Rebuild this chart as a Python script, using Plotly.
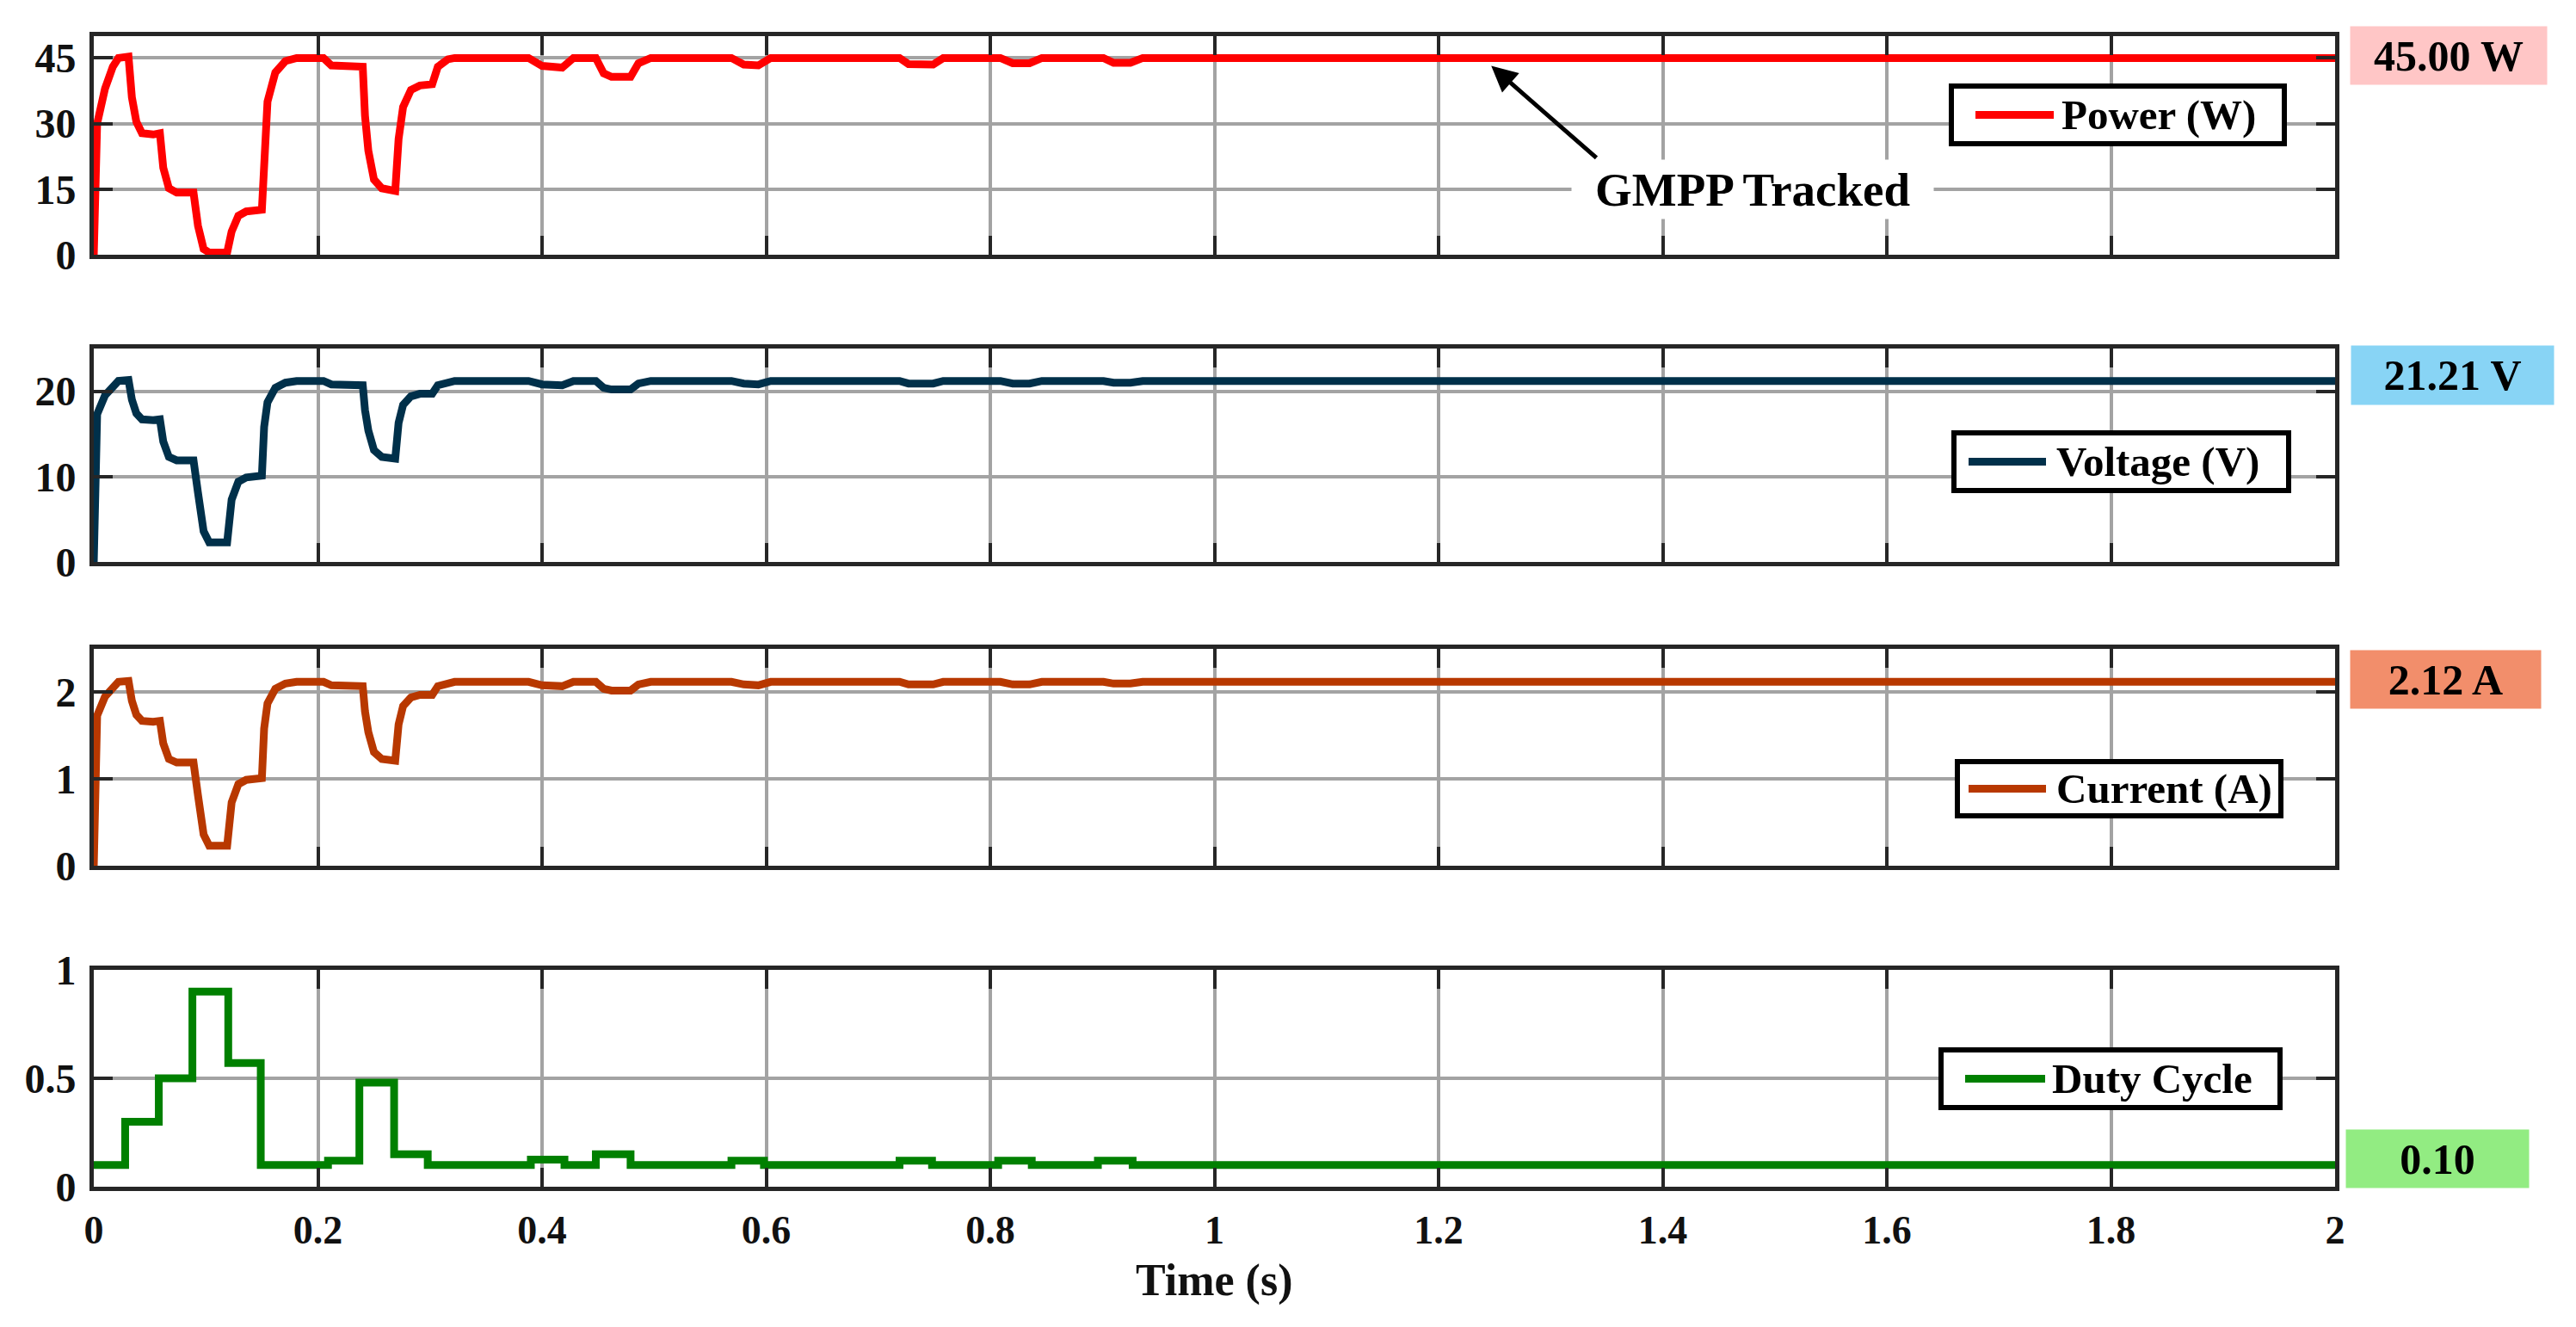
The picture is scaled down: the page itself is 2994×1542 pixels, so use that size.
import plotly.graph_objects as go

# ---------------- data ----------------
time_s = [0, 0.003, 0.01, 0.017, 0.022, 0.031, 0.034, 0.038, 0.043, 0.053, 0.059, 0.062, 0.067, 0.074,
          0.089, 0.093, 0.098, 0.103, 0.119, 0.123, 0.129, 0.136, 0.150, 0.152, 0.155, 0.162, 0.171,
          0.181, 0.205, 0.212, 0.240, 0.242, 0.245, 0.250, 0.257, 0.269, 0.272, 0.276, 0.283, 0.291,
          0.302, 0.307, 0.316, 0.322, 0.388, 0.400, 0.418, 0.428, 0.448, 0.455, 0.462, 0.479, 0.486,
          0.497, 0.569, 0.580, 0.593, 0.604, 0.719, 0.727, 0.749, 0.758, 0.809, 0.820, 0.835, 0.846,
          0.901, 0.910, 0.925, 0.936, 2.0]

power_w = [0, 30, 38, 43, 45, 45.3, 36, 30.4, 27.8, 27.5, 27.8, 19.9, 15.2, 14.2,
           14.2, 6.6, 1.3, 0.5, 0.5, 5.3, 8.9, 9.9, 10.3, 25, 35, 41.7, 44.3,
           45, 45, 43.3, 43, 31.8, 23.8, 17.2, 15.2, 14.6, 26.5, 33.8, 37.7, 38.7,
           39, 43, 44.7, 45, 45, 43.2, 42.8, 45, 45, 41.5, 40.7, 40.7, 43.8,
           45, 45, 43.5, 43.3, 45, 45, 43.6, 43.5, 45, 45, 43.8, 43.8, 45,
           45, 43.9, 43.9, 45, 45]

voltage_v = [0, 17.3, 19.5, 20.7, 21.2, 21.3, 19.0, 17.4, 16.7, 16.6, 16.7, 14.1, 12.3, 11.9,
             11.9, 8.1, 3.6, 2.3, 2.3, 7.3, 9.4, 9.9, 10.1, 15.8, 18.7, 20.4, 21.0,
             21.2, 21.2, 20.8, 20.7, 17.8, 15.4, 13.1, 12.3, 12.1, 16.3, 18.4, 19.4, 19.7,
             19.7, 20.7, 21.1, 21.2, 21.2, 20.8, 20.7, 21.2, 21.2, 20.4, 20.2, 20.2, 20.9,
             21.2, 21.2, 20.9, 20.8, 21.2, 21.2, 20.9, 20.9, 21.2, 21.2, 20.9, 20.9, 21.2,
             21.2, 21.0, 21.0, 21.2, 21.2]

current_a = [0, 1.73, 1.95, 2.07, 2.12, 2.13, 1.90, 1.74, 1.67, 1.66, 1.67, 1.41, 1.23, 1.19,
             1.19, 0.81, 0.36, 0.23, 0.23, 0.73, 0.94, 0.99, 1.01, 1.58, 1.87, 2.04, 2.10,
             2.12, 2.12, 2.08, 2.07, 1.78, 1.54, 1.31, 1.23, 1.21, 1.63, 1.84, 1.94, 1.97,
             1.97, 2.07, 2.11, 2.12, 2.12, 2.08, 2.07, 2.12, 2.12, 2.04, 2.02, 2.02, 2.09,
             2.12, 2.12, 2.09, 2.08, 2.12, 2.12, 2.09, 2.09, 2.12, 2.12, 2.09, 2.09, 2.12,
             2.12, 2.10, 2.10, 2.12, 2.12]

duty_time_s = [0, 0.028, 0.058, 0.088, 0.120, 0.149, 0.209, 0.237, 0.268, 0.298, 0.390, 0.420,
               0.448, 0.479, 0.569, 0.598, 0.719, 0.748, 0.807, 0.837, 0.896, 0.927, 2.0]
duty_cycle = [0.1, 0.3, 0.5, 0.9, 0.57, 0.1, 0.12, 0.48, 0.15, 0.1, 0.125, 0.1,
              0.15, 0.1, 0.12, 0.1, 0.12, 0.1, 0.12, 0.1, 0.12, 0.1, 0.1]

series_names = ["Power (W)", "Voltage (V)", "Current (A)", "Duty Cycle"]
final_labels = ["45.00 W", "21.21 V", "2.12 A", "0.10"]
x_title = "Time (s)"

x_ticks = [0, 0.2, 0.4, 0.6, 0.8, 1, 1.2, 1.4, 1.6, 1.8, 2]
x_tick_text = ["0", "0.2", "0.4", "0.6", "0.8", "1", "1.2", "1.4", "1.6", "1.8", "2"]
y_ranges = [[0, 50], [0, 25], [0, 2.5], [0, 1]]
y_ticks = [[0, 15, 30, 45], [0, 10, 20], [0, 1, 2], [0, 0.5, 1]]
y_tick_text = [["0", "15", "30", "45"], ["0", "10", "20"], ["0", "1", "2"], ["0", "0.5", "1"]]

gmpp_point = (1.247, 43.2)
gmpp_tail = (1.342, 21.9)
gmpp_text_pos = (1.48, 15)

# ---------------- styling ----------------
W, H = 2994, 1542
FONT = "Liberation Serif"
FRAME = "#262626"
GRID = "#a3a3a3"
line_colors = ["#ff0000", "#00304a", "#b83800", "#008000"]
box_colors = ["#ffc6c6", "#88d4f5", "#f28e6b", "#92ec82"]

def px(x):
    return x / W

def py(y):
    return 1 - y / H

X_DOMAIN = [px(109), px(2714)]
Y_PIX = [(42, 296), (405, 653), (754, 1006), (1127, 1379)]

fig = go.Figure()

xs = [time_s, time_s, time_s, duty_time_s]
ys = [power_w, voltage_v, current_a, duty_cycle]
for i in range(4):
    suffix = "" if i == 0 else str(i + 1)
    fig.add_trace(go.Scatter(
        x=xs[i], y=ys[i], mode="lines", name=series_names[i],
        line=dict(color=line_colors[i], width=9, shape="hv" if i == 3 else "linear"),
        xaxis="x" + suffix, yaxis="y" + suffix, showlegend=False,
    ))

layout = dict(
    width=W, height=H,
    margin=dict(l=0, r=0, t=0, b=0, autoexpand=False),
    paper_bgcolor="white", plot_bgcolor="white",
    font=dict(family=FONT, size=46, color="#111111", weight="bold"),
    showlegend=False,
)

for i in range(4):
    suffix = "" if i == 0 else str(i + 1)
    top, bot = Y_PIX[i]
    xa = dict(
        domain=X_DOMAIN, range=[0, 2], anchor="y" + suffix, automargin=False,
        tickvals=x_ticks, ticktext=x_tick_text, showticklabels=(i == 3),
        ticks="inside", ticklen=22, tickwidth=4, tickcolor=FRAME,
        showline=True, linecolor=FRAME, linewidth=5, mirror="ticks",
        showgrid=True, gridcolor=GRID, gridwidth=4, zeroline=False,
        tickfont=dict(family=FONT, size=46, color="#111111", weight="bold"),
        ticklabelstandoff=6,
    )
    if i > 0:
        xa["matches"] = "x"
    ya = dict(
        domain=[py(bot), py(top)], range=y_ranges[i], anchor="x" + suffix, automargin=False,
        tickvals=y_ticks[i], ticktext=y_tick_text[i],
        ticks="inside", ticklen=22, tickwidth=4, tickcolor=FRAME,
        showline=True, linecolor=FRAME, linewidth=5, mirror="ticks",
        showgrid=True, gridcolor=GRID, gridwidth=4, zeroline=False,
        tickfont=dict(family=FONT, size=48, color="#111111", weight="bold"),
        ticklabelstandoff=6,
    )
    layout["xaxis" + suffix] = xa
    layout["yaxis" + suffix] = ya

shapes = []
annotations = []

# x-axis title
annotations.append(dict(text=x_title, xref="paper", yref="paper",
                        x=px(1411), y=py(1488), xanchor="center", yanchor="middle",
                        showarrow=False,
                        font=dict(family=FONT, size=52, color="#111111", weight="bold")))

# legends (drawn manually: box, sample line, label)
legend_boxes = [(2268, 2655, 100, 167), (2271, 2660, 503, 570), (2275, 2651, 885, 948), (2256, 2650, 1220, 1287)]
legend_lines = [(2296, 2387), (2288, 2378), (2288, 2378), (2284, 2377)]
legend_text_x = [2394, 2388, 2388, 2383]
for i in range(4):
    x0, x1, y0, y1 = legend_boxes[i]
    shapes.append(dict(type="rect", xref="paper", yref="paper",
                       x0=px(x0), x1=px(x1), y0=py(y1), y1=py(y0),
                       line=dict(color="#000000", width=6), fillcolor="white", layer="above"))
    yc = (y0 + y1) / 2
    lx0, lx1 = legend_lines[i]
    shapes.append(dict(type="line", xref="paper", yref="paper",
                       x0=px(lx0), x1=px(lx1), y0=py(yc), y1=py(yc),
                       line=dict(color=line_colors[i], width=9), layer="above"))
    annotations.append(dict(text=series_names[i], xref="paper", yref="paper",
                            x=px(legend_text_x[i]), y=py(yc), xanchor="left", yanchor="middle",
                            showarrow=False,
                            font=dict(family=FONT, size=49, color="#000000", weight="bold")))

# final value boxes on the right
value_boxes = [(2732, 2960, 31, 98), (2733, 2968, 402, 470), (2732, 2953, 756, 823), (2727, 2939, 1313, 1380)]
for i in range(4):
    x0, x1, y0, y1 = value_boxes[i]
    annotations.append(dict(text=final_labels[i], xref="paper", yref="paper",
                            x=px((x0 + x1) / 2), y=py((y0 + y1) / 2),
                            xanchor="center", yanchor="middle", showarrow=False,
                            width=x1 - x0, height=y1 - y0, borderpad=0,
                            bgcolor=box_colors[i], align="center",
                            font=dict(family=FONT, size=50, color="#000000", weight="bold")))

# GMPP annotation
annotations.append(dict(text="GMPP Tracked", xref="x", yref="y",
                        x=gmpp_text_pos[0], y=gmpp_text_pos[1], showarrow=False,
                        xanchor="center", yanchor="middle", bgcolor="white",
                        width=420, height=68, borderpad=0,
                        font=dict(family=FONT, size=55, color="#000000", weight="bold")))
annotations.append(dict(text="", xref="x", yref="y", x=gmpp_point[0], y=gmpp_point[1],
                        axref="x", ayref="y", ax=gmpp_tail[0], ay=gmpp_tail[1],
                        showarrow=True, arrowhead=2, arrowsize=1.2, arrowwidth=5,
                        arrowcolor="#000000"))

layout["shapes"] = shapes
layout["annotations"] = annotations
fig.update_layout(**layout)

fig.write_html("out.html", config={"displayModeBar": False},
               post_script="document.body.style.margin='0';document.body.style.overflow='hidden';")
